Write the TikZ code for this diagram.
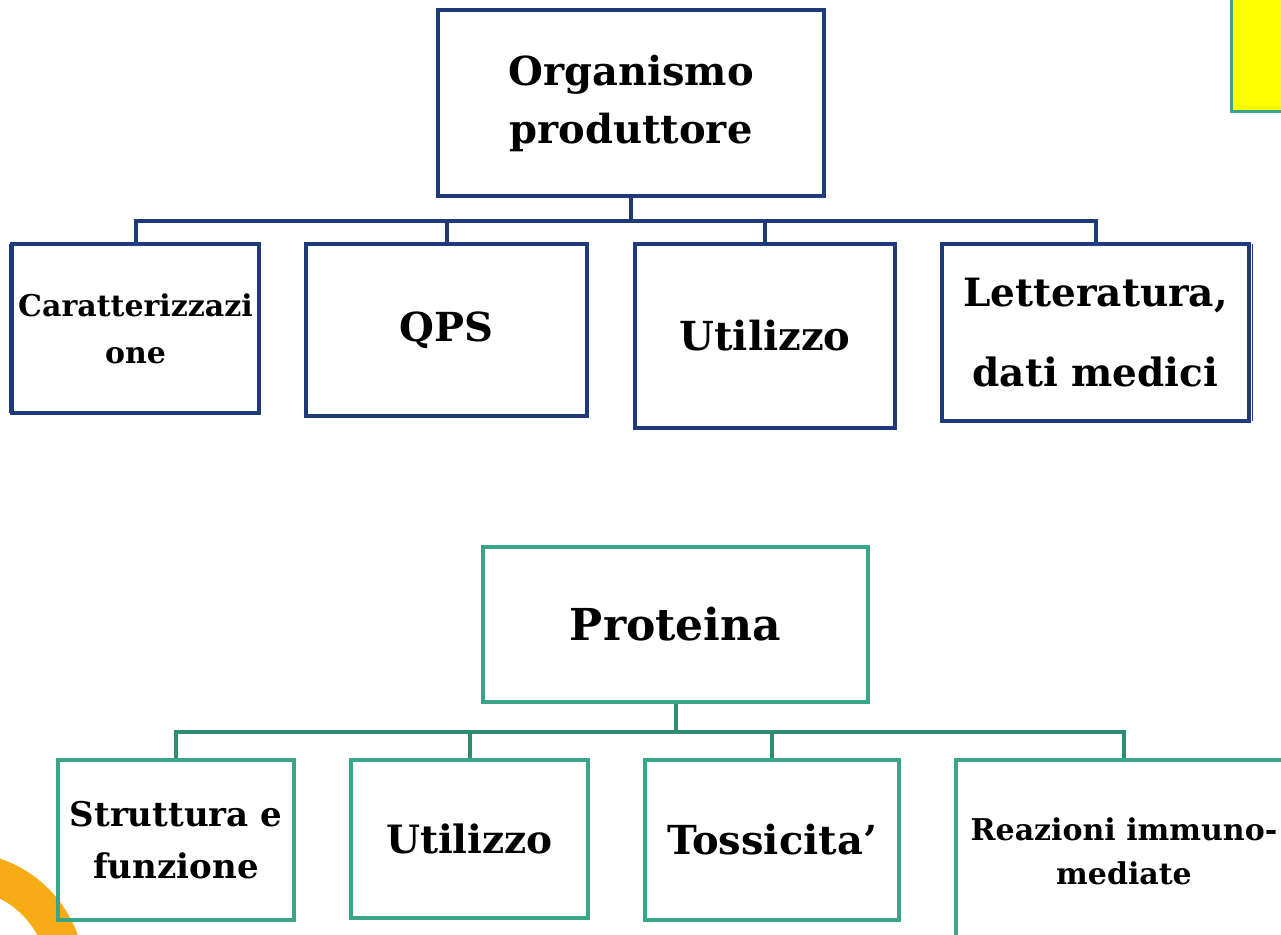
\documentclass[tikz,border=0pt]{standalone}
\usepackage{fontspec}
\setmainfont{DejaVu Serif}
\usetikzlibrary{positioning}

\definecolor{navy}{HTML}{1E3A78}
\definecolor{teal}{HTML}{3AA58A}
\definecolor{tealdark}{HTML}{2F8C72}
\definecolor{orangearc}{HTML}{F7AC15}
\definecolor{yellowbox}{HTML}{FFFF00}

\begin{document}
\begin{tikzpicture}[x=0.5pt,y=-0.5pt,
    navybox/.style={draw=navy, line width=2pt, align=center, inner sep=0pt, font=\bfseries},
    tealbox/.style={draw=teal, line width=2pt, align=center, inner sep=0pt, font=\bfseries},
    navyline/.style={draw=navy, line width=2pt},
    tealline/.style={draw=tealdark, line width=2pt}]
    \useasboundingbox (0,0) rectangle (1281,934);
    \clip (0,0) rectangle (1281,934);

    % decorations at the corners
    \draw[fill=yellowbox, draw=teal, line width=1.5pt] (1231,-10) rectangle (1300,111);
    \fill[orangearc, even odd rule] (-40,977) circle [radius=125] (-40,977) circle [radius=88];

    % top tree
    \node[navybox, minimum width=193pt, minimum height=93pt, font=\bfseries\fontsize{20}{29}\selectfont] (org) at (631,103) {Organismo\\produttore};
    \node[navybox, minimum width=123.5pt, minimum height=84.5pt, font=\bfseries\fontsize{15}{23.5}\selectfont] (car) at (135.5,328.5) {Caratterizzazi\\one};
    \node[navybox, minimum width=140.5pt, minimum height=86pt, font=\bfseries\fontsize{20}{29}\selectfont] (qps) at (446.5,330) {QPS};
    \node[navybox, minimum width=130pt, minimum height=92pt, font=\bfseries\fontsize{20}{29}\selectfont] (uti1) at (765,336) {Utilizzo};
    \node[navybox, minimum width=153.5pt, minimum height=88.5pt, font=\bfseries\fontsize{19.5}{40}\selectfont] (let) at (1095.5,332.5) {Letteratura,\\dati medici};
    \draw[navy, line width=0.5pt] (9,244) -- (9,413);
    \draw[navy, line width=0.5pt] (1252,244) -- (1252,421);

    \coordinate (bus1) at (631,221);
    \path[navyline] (org.south) -- (bus1);
    \path[navyline] (bus1) -| (car.north);
    \path[navyline] (bus1) -| (qps.north);
    \path[navyline] (bus1) -| (uti1.north);
    \path[navyline] (bus1) -| (let.north);

    % bottom tree
    \node[tealbox, minimum width=192.5pt, minimum height=77.5pt, font=\bfseries\fontsize{22}{29}\selectfont] (pro) at (675.5,624.5) {Proteina};
    \node[tealbox, minimum width=118pt, minimum height=80pt, font=\bfseries\fontsize{17}{26}\selectfont] (str) at (176,840) {Struttura e\\funzione};
    \node[tealbox, minimum width=118.5pt, minimum height=79pt, font=\bfseries\fontsize{19.5}{29}\selectfont] (uti2) at (469.5,839) {Utilizzo};
    \node[tealbox, minimum width=127pt, minimum height=80pt, font=\bfseries\fontsize{20}{29}\selectfont] (tos) at (772,840) {Tossicita’};
    \node[tealbox, minimum width=168pt, minimum height=91pt, font=\bfseries\fontsize{15}{22}\selectfont] (rea) at (1124,851) {Reazioni immuno-\\mediate};

    \coordinate (bus2) at (675.5,732);
    \path[tealline] (pro.south) -- (bus2);
    \path[tealline] (bus2) -| (str.north);
    \path[tealline] (bus2) -| (uti2.north);
    \path[tealline] (bus2) -| (tos.north);
    \path[tealline] (bus2) -| (rea.north);
\end{tikzpicture}
\end{document}
